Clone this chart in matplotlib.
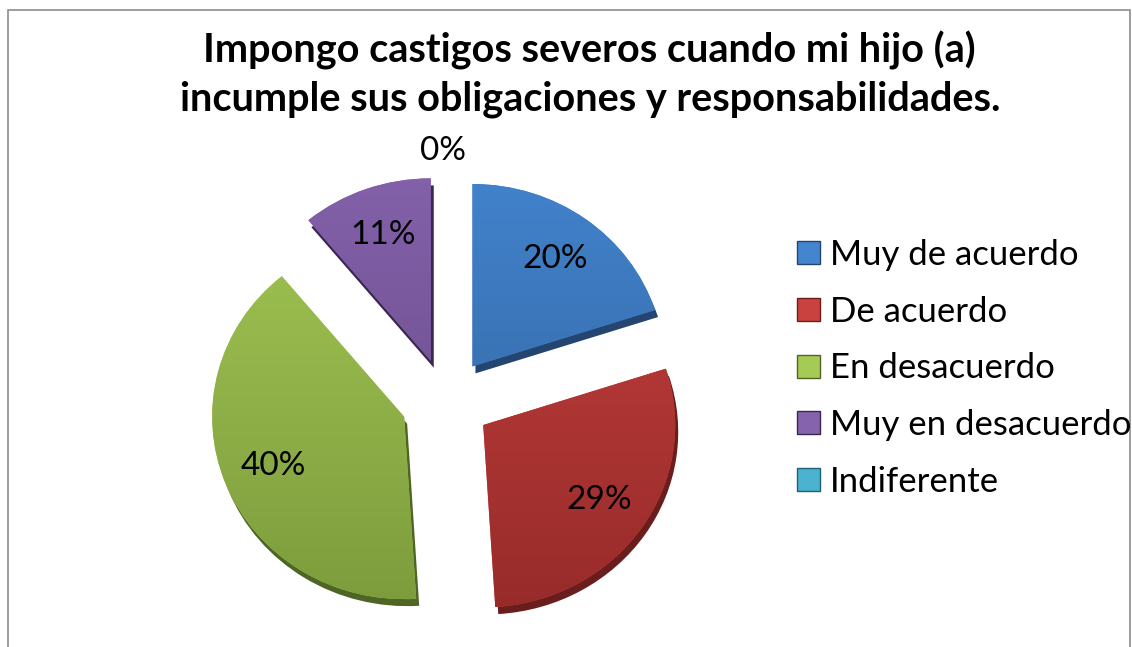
import matplotlib
matplotlib.use('Agg')
import matplotlib.pyplot as plt
import numpy as np
from matplotlib.colors import LinearSegmentedColormap
from matplotlib.patches import Rectangle

title = "Impongo castigos severos cuando mi hijo (a)\nincumple sus obligaciones y responsabilidades."
categories = ["Muy de acuerdo", "De acuerdo", "En desacuerdo", "Muy en desacuerdo", "Indiferente"]
values = [20, 29, 40, 11, 0]
colors_top = ["#4385CF", "#C9423F", "#A6CA56", "#8663AD", "#4BB3CF"]
colors_bottom = ["#2E5C95", "#922928", "#78973A", "#5F437E", "#2E8AA3"]
colors_side = ["#23456F", "#6A1D1D", "#4F6526", "#3A2850", "#1F6072"]

FONT = "Lato"
W, H = 1132, 647
SQUASH = 0.95  # slight vertical tilt of the pie

fig = plt.figure(figsize=(W / 100, H / 100), dpi=100)
ax = fig.add_axes([0, 0, 1, 1])
ax.axis('off')

# chart border
fig.patches.append(Rectangle((8 / W, -0.01), (W - 10) / W, (H - 10) / H + 0.01,
                             transform=fig.transFigure, fill=False,
                             edgecolor="#8C8C8C", linewidth=1.2))

cx, cy, r = 446, (H - 401) / SQUASH, 192
explode = [45] * len(values)   # offset in data units

# thickness / shadow layer
ax.pie(values, explode=explode, startangle=90, counterclock=False,
       center=(cx + 3, cy - 7 / SQUASH), radius=r, colors=colors_side,
       wedgeprops=dict(linewidth=0), normalize=True)

wedges, texts, autotexts = ax.pie(
    values, explode=explode, startangle=90, counterclock=False,
    center=(cx, cy), radius=r, colors=colors_top,
    wedgeprops=dict(linewidth=0), autopct=lambda p: f"{p:.0f}%",
    pctdistance=0.73, normalize=True,
    textprops=dict(fontsize=24, family=FONT, color="black"))

# vertical gradient inside each wedge
grad = np.linspace(0, 1, 256).reshape(-1, 1)
for w, ct, cb in zip(wedges, colors_top, colors_bottom):
    cmap = LinearSegmentedColormap.from_list("g", [cb, ct])
    im = ax.imshow(grad, cmap=cmap, origin='lower', aspect='auto',
                   extent=(cx - r - 80, cx + r + 80, cy - r - 80, cy + r + 80),
                   zorder=w.get_zorder() + 0.5)
    im.set_clip_path(w)

ax.set_aspect('auto')
ax.set_xlim(0, W)
ax.set_ylim(0, H / SQUASH)

for t in autotexts:
    t.set_zorder(10)
# the zero-size slice label sits outside at the top
zero_idx = values.index(0)
ang = np.deg2rad(90)
autotexts[zero_idx].set_position((cx - 3 + 1.37 * r * np.cos(ang), cy + 1.37 * r * np.sin(ang)))

fig.text(0.521, 0.885, title, ha='center', va='center', fontsize=28.5,
         fontweight='bold', family=FONT, linespacing=1.38)

handles = [plt.Rectangle((0, 0), 1, 1, facecolor=c, edgecolor=s, linewidth=1)
           for c, s in zip(colors_top, colors_side)]
leg = fig.legend(handles, categories, loc='upper left', bbox_to_anchor=(0.692, 0.652),
                 frameon=False, prop=dict(family=FONT, size=25),
                 handlelength=0.65, handleheight=0.65, handletextpad=0.3,
                 labelspacing=0.71, borderaxespad=0, borderpad=0.4)

fig.savefig("out.png", dpi=100)
